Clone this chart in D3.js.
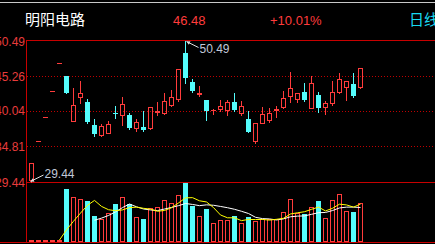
<!DOCTYPE html>
<html><head><meta charset="utf-8">
<script src="https://cdn.jsdelivr.net/npm/d3@7/dist/d3.min.js"></script>
<style>html,body{margin:0;padding:0;background:#000;overflow:hidden}</style>
</head><body>
<svg id="c" width="435" height="244"></svg>
<script>
// ---- data ----
const stockName = "明阳电路";
const lastPrice = "46.48";
const changePct = "+10.01%";
const period = "日线";
const priceLabels = [50.49, 45.26, 40.04, 34.81, 29.44];
const gridPrices = [45.26, 40.04, 34.81];
const highMark = 50.49;
const lowMark = 29.44;
const open  = [29.74,35.56,39.10,42.98,47.16,45.27,38.55,42.09,41.34,37.95,36.46,36.80,39.80,39.44,39.44,37.46,37.70,37.46,39.89,39.79,40.94,41.79,48.74,44.41,42.58,41.68,40.14,40.34,40.19,41.34,39.79,38.80,35.61,38.29,38.70,40.23,40.59,42.32,41.79,42.92,40.53,42.43,40.68,41.28,42.92,43.58,44.07,43.67];
const close = [32.32,35.56,39.10,42.98,47.16,42.68,40.94,42.68,38.44,36.56,37.80,38.10,39.70,41.08,37.46,38.44,37.20,40.59,40.00,41.53,42.09,46.27,44.92,43.07,42.77,40.08,40.23,40.83,41.43,40.19,40.83,36.95,38.29,39.59,39.79,40.29,41.94,43.43,42.68,41.68,44.27,40.53,41.19,42.83,44.82,44.47,42.25,46.48];
const high  = [32.32,35.56,39.10,42.98,47.16,45.27,43.43,44.52,41.79,38.85,38.10,38.55,40.79,42.09,39.70,38.80,40.08,40.59,41.43,42.77,43.18,46.27,50.49,44.77,43.77,41.68,40.29,41.68,41.68,42.77,41.53,40.04,38.29,40.59,40.44,40.79,43.07,45.91,42.68,44.18,45.27,42.92,41.53,44.52,45.76,44.47,45.76,46.48];
const low   = [29.44,35.56,39.10,42.98,47.16,42.68,38.55,41.28,38.20,36.31,36.31,36.76,39.00,37.95,37.35,37.05,37.05,37.30,39.44,39.59,40.83,41.58,44.27,42.83,42.32,38.70,39.59,40.08,39.44,40.08,39.44,36.90,35.31,38.25,38.44,39.10,40.53,41.43,41.43,41.53,40.49,39.94,39.59,40.94,42.68,41.68,42.17,43.43];
const volume = [2,2,2,2,2,53,45.3,43,41.3,26.3,23,28.7,38,45.3,38,25,23,33.7,34.7,42,38.7,47,59.3,36,26,33,18.7,22,22,26,18.7,24.7,21.3,22.7,22.7,22.7,29.7,43,28.7,28,34.7,41,23.7,42,48.7,31,30,38.7];

// ---- styles ----
const RED = "#ff3c3c", CYAN = "#54fcfc", AXIS = "#c80000", LBL = "#e83c3c";
const svg = d3.select("#c");
svg.append("rect").attr("width",435).attr("height",244).attr("fill","#000");

const days = open.map((_, i) => i);
const x = d3.scaleBand().domain(days).range([28, 364]).paddingInner(2/7).paddingOuter(1/7);
const y = d3.scaleLinear().domain([lowMark, highMark]).range([182, 41]);
const yv = d3.scaleLinear().domain([0, d3.max(volume)]).range([242, 183]);
const bw = x.bandwidth();

// top gray line
svg.append("line").attr("x1",0).attr("x2",435).attr("y1",2.5).attr("y2",2.5).attr("stroke","#c8c8c8");

// header texts
svg.append("text").attr("x",25).attr("y",25).attr("fill","#fff")
  .attr("font-family","Noto Sans CJK SC").attr("font-size",15).text(stockName);
svg.append("text").attr("x",173).attr("y",25).attr("fill",RED)
  .attr("font-family","Liberation Sans").attr("font-size",13).text(lastPrice);
svg.append("text").attr("x",270).attr("y",25).attr("fill",RED)
  .attr("font-family","Liberation Sans").attr("font-size",13).text(changePct);
svg.append("text").attr("x",409).attr("y",25).attr("fill","#18d8f0")
  .attr("font-family","Noto Sans CJK SC").attr("font-size",15).text(period);

// grid dotted lines
svg.append("g").selectAll("line").data(gridPrices).join("line")
  .attr("x1",27).attr("x2",435)
  .attr("y1",d=>Math.round(y(d))+0.5).attr("y2",d=>Math.round(y(d))+0.5)
  .attr("stroke","#c00000").attr("stroke-dasharray","1,2");

// frame lines
const frame = svg.append("g").attr("stroke",AXIS).attr("stroke-width",1);
frame.append("line").attr("x1",26).attr("x2",435).attr("y1",40.5).attr("y2",40.5);
frame.append("line").attr("x1",26).attr("x2",435).attr("y1",182.5).attr("y2",182.5);
frame.append("line").attr("x1",0).attr("x2",435).attr("y1",242.5).attr("y2",242.5);
frame.append("line").attr("x1",26.5).attr("x2",26.5).attr("y1",40).attr("y2",243);

// price labels
svg.append("g").selectAll("text").data(priceLabels).join("text")
  .attr("x",25).attr("y",d=>y(d)+4.5).attr("text-anchor","end")
  .attr("fill",LBL).attr("font-family","Liberation Sans").attr("font-size",12)
  .text(d=>d.toFixed(2));

// candles
const cg = svg.append("g");
days.forEach(i => {
  const x0 = x(i), cx = x0 + Math.floor(bw/2) + 0.5;
  const o = open[i], c = close[i];
  const yo = Math.round(y(o)), yc = Math.round(y(c));
  const yh = Math.round(y(high[i])), yl = Math.round(y(low[i]));
  const up = c >= o;
  if (up) {
    const top = Math.min(yo, yc), bot = Math.max(yo, yc);
    if (bot - top < 1) {
      cg.append("line").attr("x1",x0).attr("x2",x0+bw).attr("y1",top+0.5).attr("y2",top+0.5).attr("stroke",RED);
    } else {
      cg.append("rect").attr("x",x0+0.5).attr("y",top+0.5).attr("width",bw-1).attr("height",bot-top)
        .attr("fill","none").attr("stroke",RED);
    }
    if (yh < top) cg.append("line").attr("x1",cx).attr("x2",cx).attr("y1",yh).attr("y2",top).attr("stroke",RED);
    if (yl > bot) cg.append("line").attr("x1",cx).attr("x2",cx).attr("y1",bot+1).attr("y2",yl+1).attr("stroke",RED);
  } else {
    cg.append("line").attr("x1",cx).attr("x2",cx).attr("y1",yh).attr("y2",yl+1).attr("stroke",CYAN);
    cg.append("rect").attr("x",x0).attr("y",yo).attr("width",bw).attr("height",Math.max(1,yc-yo)).attr("fill",CYAN);
  }
});

// annotations
const hi = open.findIndex((_,i)=>high[i]===highMark);
const lo = open.findIndex((_,i)=>low[i]===lowMark);
const ann = svg.append("g");
function mark(px, py, tx, ty, label){
  ann.append("line").attr("x1",px).attr("y1",py).attr("x2",tx).attr("y2",ty).attr("stroke","#e0e0e0");
  const ang = Math.atan2(ty-py, tx-px), L=4, w=0.5;
  const p1=[px+L*Math.cos(ang+w), py+L*Math.sin(ang+w)], p2=[px+L*Math.cos(ang-w), py+L*Math.sin(ang-w)];
  ann.append("path").attr("d",`M${px},${py}L${p1}L${p2}Z`).attr("fill","#e0e0e0");
}
const hx = x(hi)+bw/2+1, hy = y(highMark)+0.5;
mark(hx, hy, hx+12, hy+6);
ann.append("text").attr("x",hx+13).attr("y",hy+11).attr("fill","#c0c8d8")
  .attr("font-family","Liberation Sans").attr("font-size",12).text(highMark.toFixed(2));
const lx = x(lo)+bw/2-1, ly = y(lowMark)-0.5;
mark(lx, ly, lx+13, ly-6.5);
ann.append("text").attr("x",lx+14).attr("y",ly-4).attr("fill","#c0c8d8")
  .attr("font-family","Liberation Sans").attr("font-size",12).text(lowMark.toFixed(2));

// volume bars
const vg = svg.append("g");
days.forEach(i => {
  const x0 = x(i), top = Math.round(yv(volume[i]));
  if (close[i] >= open[i]) {
    vg.append("rect").attr("x",x0+0.5).attr("y",top+0.5).attr("width",bw-1).attr("height",Math.max(1,242-top-1))
      .attr("fill","none").attr("stroke",RED);
  } else {
    vg.append("rect").attr("x",x0).attr("y",top).attr("width",bw).attr("height",242-top).attr("fill",CYAN);
  }
});

// moving averages of volume
function ma(n){ return volume.map((v,i)=> i<n-1 ? null : d3.mean(volume.slice(i-n+1,i+1))); }
const line = d3.line().defined(d=>d[1]!==null).x(d=>x(d[0])+bw/2).y(d=>yv(d[1]));
svg.append("path").attr("d",line(ma(10).map((v,i)=>[i,v]))).attr("fill","none").attr("stroke","#ffffff");
svg.append("path").attr("d",line(ma(5).map((v,i)=>[i,v]))).attr("fill","none").attr("stroke","#ffff00");
</script>
</body></html>
